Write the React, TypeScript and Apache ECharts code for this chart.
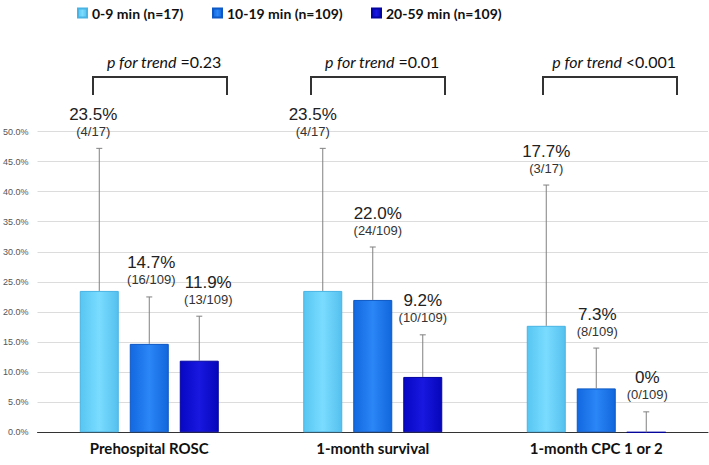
import React, { useEffect, useRef } from "react";
import * as echarts from "echarts";

const categories = ["Prehospital ROSC", "1-month survival", "1-month CPC 1 or 2"];
const groupNames = ["0-9 min (n=17)", "10-19 min (n=109)", "20-59 min (n=109)"];
const values0 = [23.5, 23.5, 17.7];
const values1 = [14.7, 22.0, 7.3];
const values2 = [11.9, 9.2, 0];
const upper0 = [47.2, 47.2, 41.1];
const upper1 = [22.5, 30.8, 14.0];
const upper2 = [19.3, 16.2, 3.4];
const counts0 = ["(4/17)", "(4/17)", "(3/17)"];
const counts1 = ["(16/109)", "(24/109)", "(8/109)"];
const counts2 = ["(13/109)", "(10/109)", "(0/109)"];
const pTrend = ["=0.23", "=0.01", "<0.001"];
const yTicks = [0, 5, 10, 15, 20, 25, 30, 35, 40, 45, 50];

// label nudges (style only)
const labelDx = [
  [-6, -10, 0],
  [2, 5, 1],
  [9, 0, 1],
];

const BAR_W = 39;
const BAR_STEP = 50;

const barColors = [
  { l: "#57c6f2", m: "#7adcff", r: "#55c0ee", b: "#49b3e3" },
  { l: "#1268e0", m: "#2b86f6", r: "#1166dc", b: "#0d58c4" },
  { l: "#0707c4", m: "#1818e0", r: "#0606ba", b: "#0404a0" },
];

function grad(c: any) {
  return new echarts.graphic.LinearGradient(0, 0, 1, 0, [
    { offset: 0, color: c.l },
    { offset: 0.5, color: c.m },
    { offset: 1, color: c.r },
  ]);
}

export default function App() {
  const ref = useRef<HTMLDivElement>(null);
  useEffect(() => {
    if (!ref.current) return;
    const chart = echarts.init(ref.current, undefined, { renderer: "svg" });
    const vals = [values0, values1, values2];
    const ups = [upper0, upper1, upper2];
    const cnts = [counts0, counts1, counts2];
    const errData: any[] = [];
    const errText: { pct: string; cnt: string; dx: number }[] = [];
    for (let s = 0; s < 3; s++) {
      for (let c = 0; c < categories.length; c++) {
        errData.push([c, s, vals[s][c], ups[s][c]]);
        const v = vals[s][c];
        errText.push({ pct: v === 0 ? "0%" : v.toFixed(1) + "%", cnt: cnts[s][c], dx: labelDx[s][c] });
      }
    }
    const font = "Lato";
    const bracketX = [
      [93, 227],
      [311, 445],
      [543, 677],
    ];
    const graphics: any[] = [];
    bracketX.forEach(([x1, x2], i) => {
      graphics.push({
        type: "polyline",
        shape: { points: [[x1, 95], [x1, 77], [x2, 77], [x2, 95]] },
        style: { stroke: "#333", lineWidth: 2, fill: "none" },
      });
      graphics.push({
        type: "text",
        x: (x1 + x2) / 2 + 4,
        y: 61,
        style: {
          text: "{i|p for trend }{n|" + pTrend[i] + "}",
          align: "center",
          verticalAlign: "middle",
          rich: {
            i: { fontFamily: font, fontStyle: "italic", fontSize: 16, fill: "#111" },
            n: { fontFamily: font, fontSize: 16, fill: "#111" },
          },
        },
      });
    });
    const legendLefts = [77, 212, 371];
    chart.setOption({
      animation: false,
      grid: { left: 33, right: 1, top: 131.5, bottom: 32.7 },
      legend: groupNames.map((n, i) => ({
        data: [n],
        left: legendLefts[i],
        top: 6,
        padding: 0,
        icon: "rect",
        itemWidth: 9,
        itemHeight: 9,
        itemGap: 5,
        textStyle: { fontFamily: font, fontWeight: "bold", fontSize: 14, color: "#111" },
      })),
      xAxis: {
        type: "category",
        data: categories,
        axisLine: { lineStyle: { color: "#333", width: 1 } },
        axisTick: { show: false },
        axisLabel: { fontFamily: font, fontWeight: "bold", fontSize: 15, color: "#111", margin: 8 },
      },
      yAxis: {
        type: "value",
        min: 0,
        max: 50,
        interval: 5,
        axisLine: { show: false },
        axisTick: { show: false },
        splitLine: { lineStyle: { color: "#dcdcdc", width: 1 } },
        axisLabel: {
          fontFamily: "Liberation Sans",
          fontSize: 9,
          color: "#555",
          margin: 9,
          formatter: (v: number) => (yTicks.includes(v) ? v.toFixed(1) + "%" : ""),
        },
      },
      series: [
        ...vals.map((d, s) => ({
          type: "bar",
          name: groupNames[s],
          data: d,
          barWidth: BAR_W,
          barGap: ((BAR_STEP - BAR_W) / BAR_W) * 100 + "%",
          itemStyle: { color: grad(barColors[s]), borderColor: barColors[s].b, borderWidth: 1 },
        })),
        {
          type: "custom",
          data: errData,
          clip: false,
          z: 5,
          renderItem: (params: any, api: any) => {
            const cat = api.value(0);
            const s = api.value(1);
            const base = api.coord([cat, api.value(2)]);
            const top = api.coord([cat, api.value(3)]);
            const x = base[0] + (s - 1) * BAR_STEP;
            const t = errText[params.dataIndex];
            return {
              type: "group",
              children: [
                { type: "line", shape: { x1: x, y1: base[1], x2: x, y2: top[1] }, style: { stroke: "#808080", lineWidth: 1 } },
                { type: "line", shape: { x1: x - 3, y1: top[1], x2: x + 3, y2: top[1] }, style: { stroke: "#808080", lineWidth: 1 } },
                {
                  type: "text",
                  style: {
                    x: x + t.dx, y: top[1] - 17, text: t.cnt, align: "center", verticalAlign: "middle",
                    fontFamily: "Liberation Sans", fontSize: 13, fill: "#333",
                  },
                },
                {
                  type: "text",
                  style: {
                    x: x + t.dx, y: top[1] - 34, text: t.pct, align: "center", verticalAlign: "middle",
                    fontFamily: "Liberation Sans", fontSize: 17, fill: "#222",
                  },
                },
              ],
            };
          },
        },
      ],
      graphic: graphics,
    });
    return () => chart.dispose();
  }, []);
  return (
    <div
      ref={ref}
      style={{ position: "fixed", left: 0, top: 0, width: 709, height: 465, background: "#fff" }}
    />
  );
}
